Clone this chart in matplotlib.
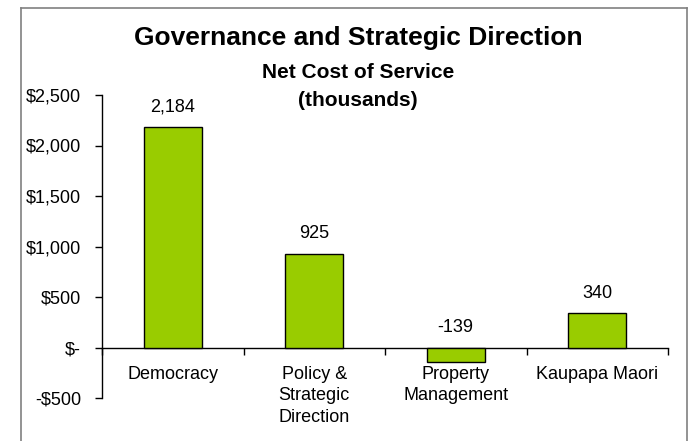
import matplotlib.pyplot as plt
from matplotlib.lines import Line2D

plt.rcParams['font.family'] = ['Liberation Sans', 'DejaVu Sans']

# Net cost of service, $ thousands
categories = ['Democracy', 'Policy &\nStrategic\nDirection', 'Property\nManagement', 'Kaupapa Maori']
net_cost = [2184, 925, -139, 340]
y_ticks = [-500, 0, 500, 1000, 1500, 2000, 2500]
y_tick_labels = ['-$500', '$-', '$500', '$1,000', '$1,500', '$2,000', '$2,500']

fig = plt.figure(figsize=(6.92, 4.41), dpi=100)
ax = fig.add_axes([102 / 692, 1 - 398 / 441, 566 / 692, 303 / 441])

x = list(range(len(categories)))
ax.bar(x, net_cost, width=0.41, color='#99CC00', edgecolor='black', linewidth=1.0, zorder=3)

ax.set_xlim(-0.5, len(categories) - 0.5)
ax.set_ylim(-500, 2500)

# value labels above each bar (or above the zero line for negatives)
for xi, v in zip(x, net_cost):
    ax.annotate(f'{v:,}', (xi, max(v, 0)), xytext=(0, 14.5), textcoords='offset points',
                ha='center', va='center', fontsize=13)

# spines: y axis on the left, x axis through zero
for side in ['top', 'right']:
    ax.spines[side].set_visible(False)
ax.spines['bottom'].set_position(('data', 0))
ax.spines['left'].set_linewidth(1.0)
ax.spines['bottom'].set_linewidth(1.0)

ax.set_yticks(y_ticks)
ax.set_yticklabels(y_tick_labels, fontsize=13)
ax.tick_params(axis='y', direction='out', length=5, width=1, pad=10)

ax.set_xticks(x)
ax.set_xticklabels(categories, fontsize=13, va='top', linespacing=1.38)
ax.tick_params(axis='x', which='major', length=0, pad=13)
ax.set_xticks([i + 0.5 for i in range(-1, len(categories))], minor=True)
ax.tick_params(axis='x', which='minor', direction='out', length=5, width=1)

# titles
fig.text(358 / 692, 1 - 38 / 441, 'Governance and Strategic Direction', ha='center', va='center',
         fontsize=19, fontweight='bold')
fig.text(358 / 692, 1 - 72 / 441, 'Net Cost of Service', ha='center', va='center',
         fontsize=15, fontweight='bold')
fig.text(358 / 692, 1 - 100 / 441, '(thousands)', ha='center', va='center',
         fontsize=15, fontweight='bold')

# chart area border
fx0, fx1, fy1 = 20.5 / 692, 686.5 / 692, 1 - 7.5 / 441
for xs, ys in [([fx0, fx0], [0, fy1]), ([fx0, fx1], [fy1, fy1]), ([fx1, fx1], [fy1, 0])]:
    fig.add_artist(Line2D(xs, ys, color='#808080', linewidth=1.2, transform=fig.transFigure))

fig.savefig('out.png', dpi=100)
